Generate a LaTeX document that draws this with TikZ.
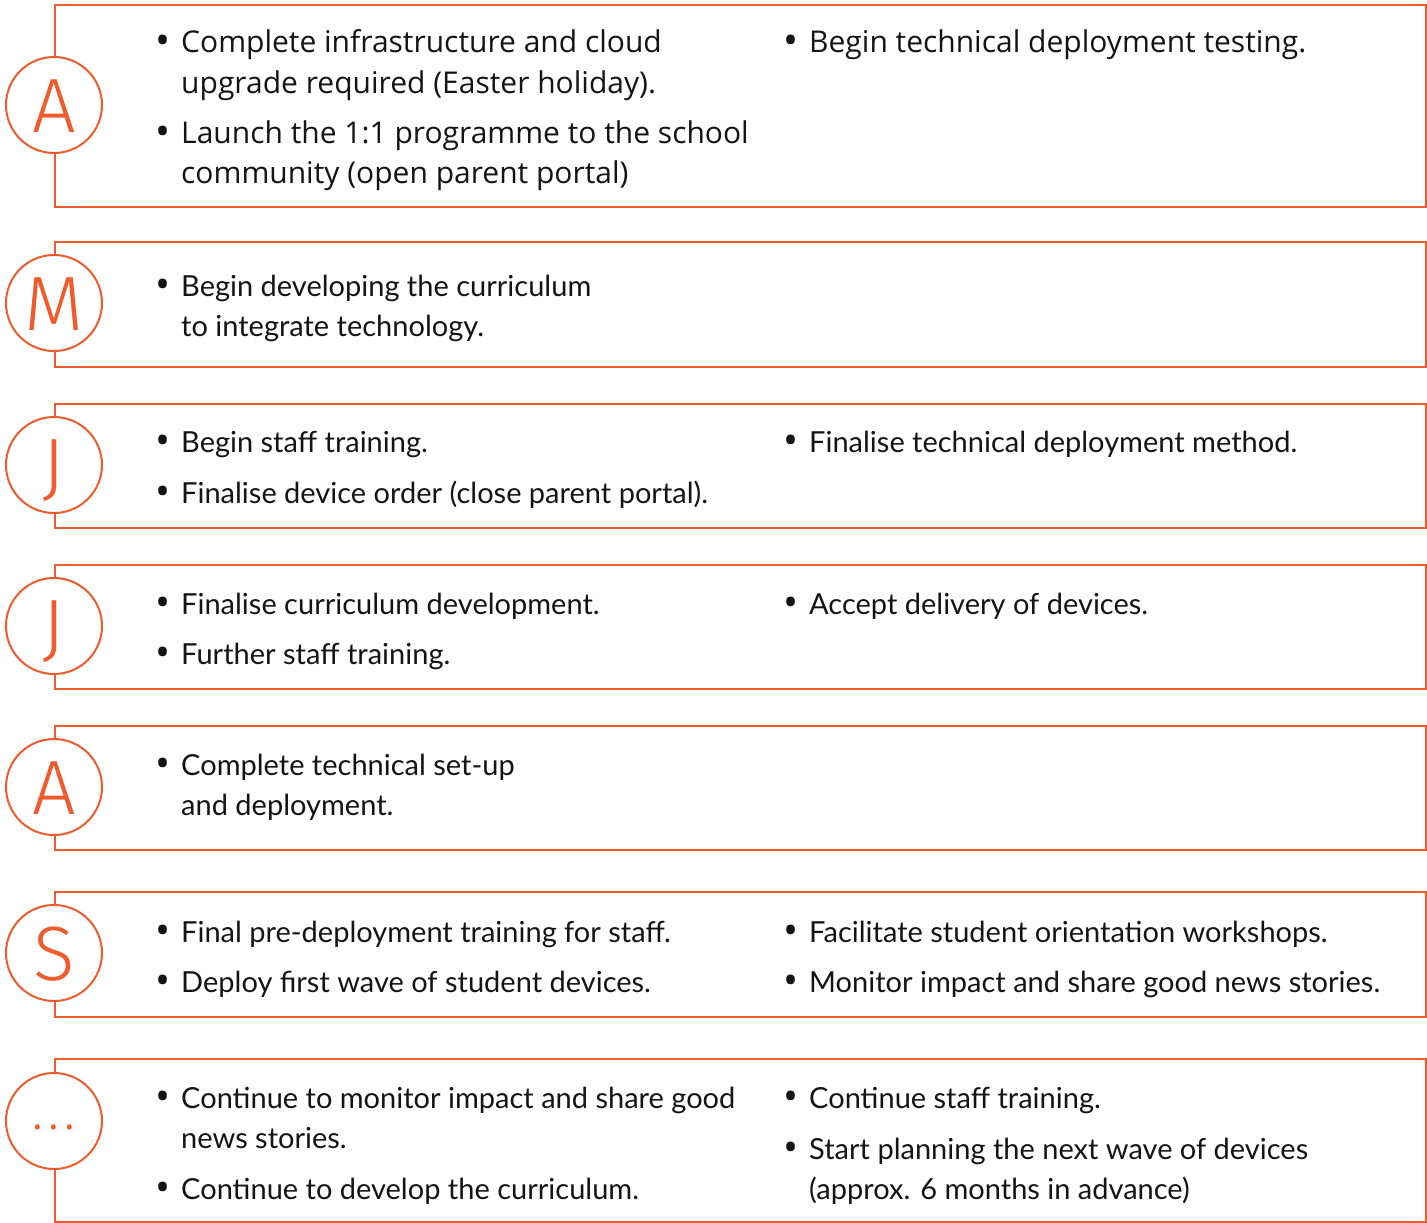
\documentclass[tikz,border=0pt]{standalone}
\usepackage{fontspec}
\setmainfont{Lato}
\newfontfamily\widefont{Open Sans}
\IfFontExistsTF{Fira Sans Light}{\newfontfamily\lightfont{Fira Sans Light}}{\newfontfamily\lightfont{Fira Sans}}
\usetikzlibrary{calc}

\definecolor{planorange}{RGB}{239,91,44}
\definecolor{plantext}{RGB}{20,20,20}

\tikzset{
  monthbox/.style={draw=planorange,line width=2pt,anchor=north west,minimum width=1371pt,inner sep=0pt},
  monthdot/.style={circle,draw=planorange,fill=white,line width=2pt,minimum size=96pt,inner sep=0pt},
  monthlabel/.style={text=planorange,font=\lightfont\fontsize{77}{77}\selectfont,anchor=base},
  bullettext/.style={text=plantext,font=\fontsize{29}{40}\selectfont,align=left,anchor=base west,inner sep=0pt},
  wide/.style={font=\widefont\fontsize{30}{40}\selectfont},
  bulletmark/.style={text=plantext,font=\widefont\fontsize{40}{40}\selectfont,anchor=base,inner sep=0pt}
}

% one bullet point: [style], name, x of text, first baseline, number of lines, text
\newcommand{\planitem}[6][]{
  \node[bulletmark] (#2m) at (#3-18,#4+2) {•};
  \node[bullettext,#1] (#2) at (#3,#4+40*#5-40) {#6};
}

\begin{document}
\begin{tikzpicture}[x=1pt,y=-1pt]
  \useasboundingbox (0,0) rectangle (1427,1223);

  % month boxes and circles
  \foreach \n/\top/\h/\cy/\lab in {1/4/202/105/A,2/241/125/303/M,3/403/124/465/J,4/564/124/626/J,5/725/124/787/A,6/891/125/953/S,7/1058/163/1121/{}} {
    \node[monthbox,minimum height=\h pt] (box\n) at (54,\top) {};
    \node[monthdot] (dot\n) at (54,\cy) {};
    \node[monthlabel] (lab\n) at (54,\cy+27) {\lab};
  }
  \node[text=planorange,font=\widefont\fontsize{40}{40}\selectfont,anchor=base,inner sep=0pt] (lab7) at (54,1129) {.\hspace{5.5pt}.\hspace{5.5pt}.};

  % April
  \planitem[wide]{a1}{181}{53}{2}{Complete infrastructure and cloud\\upgrade required (Easter holiday).}
  \planitem[wide]{a2}{181}{143}{2}{Launch the 1:1 programme to the school\\community (open parent portal)}
  \planitem[wide]{a3}{809}{53}{1}{Begin technical deployment testing.}
  % May
  \planitem{m1}{181}{296}{2}{Begin developing the curriculum\\to integrate technology.}
  % June
  \planitem{j1}{181}{452}{1}{Begin staff training.}
  \planitem{j2}{181}{503}{1}{Finalise device order (close parent portal).}
  \planitem{j3}{809}{452}{1}{Finalise technical deployment method.}
  % July
  \planitem{k1}{181}{614}{1}{Finalise curriculum development.}
  \planitem{k2}{181}{664}{1}{Further staff training.}
  \planitem{k3}{809}{614}{1}{Accept delivery of devices.}
  % August
  \planitem{g1}{181}{775}{2}{Complete technical set-up\\and deployment.}
  % September
  \planitem{s1}{181}{942}{1}{Final pre-deployment training for staff.}
  \planitem{s2}{181}{992}{1}{Deploy first wave of student devices.}
  \planitem{s3}{809}{942}{1}{Facilitate student orientation workshops.}
  \planitem{s4}{809}{992}{1}{Monitor impact and share good news stories.}
  % later
  \planitem{l1}{181}{1108}{2}{Continue to monitor impact and share good\\news stories.}
  \planitem{l2}{181}{1199}{1}{Continue to develop the curriculum.}
  \planitem{l3}{809}{1108}{1}{Continue staff training.}
  \planitem{l4}{809}{1159}{2}{Start planning the next wave of devices\\(approx. 6 months in advance)}
\end{tikzpicture}
\end{document}
